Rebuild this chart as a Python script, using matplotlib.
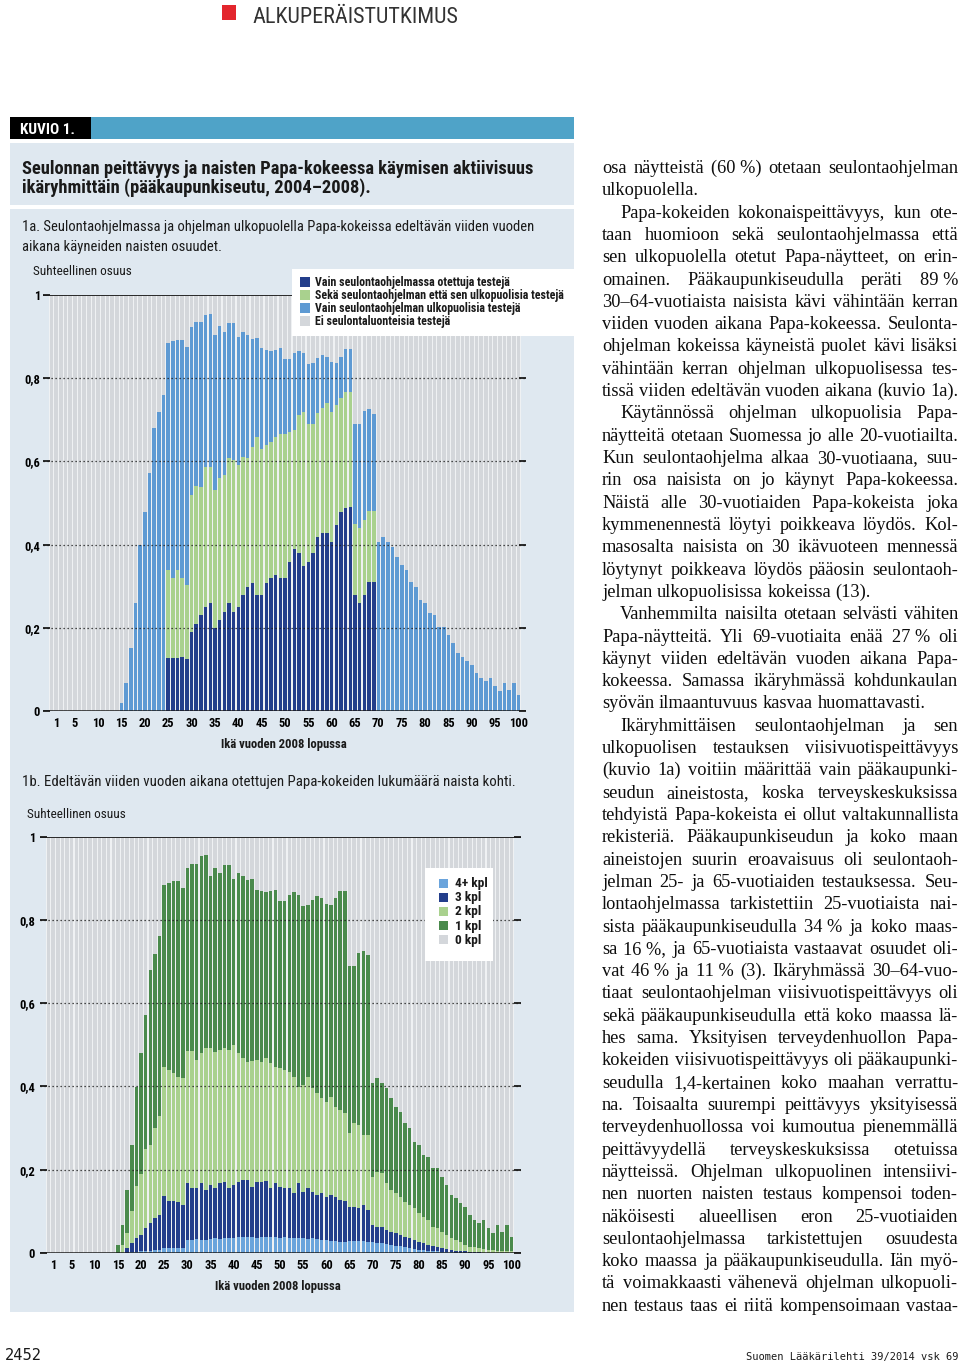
import numpy as np
import matplotlib
matplotlib.use("Agg")
import matplotlib.pyplot as plt
from matplotlib.patches import Rectangle
from matplotlib.font_manager import FontProperties, fontManager

# ------------------------------------------------------------------ data
ages = list(range(0, 101))
age_ticks = [1, 5, 10, 15, 20, 25, 30, 35, 40, 45, 50, 55, 60, 65, 70, 75, 80, 85, 90, 95, 100]
age_tick_labels = [str(t) for t in age_ticks]
share_ticks = [0, 0.2, 0.4, 0.6, 0.8, 1.0]
share_tick_labels = ["0", "0,2", "0,4", "0,6", "0,8", "1"]

# Kuvio 1a: cumulative shares (top of each stacked layer) by age
screen_only = [0.0] * 25 + [
    0.128, 0.128, 0.128, 0.131, 0.124,
    0.190, 0.210, 0.231, 0.251, 0.259, 0.199, 0.219, 0.239, 0.259, 0.239,
    0.251, 0.279, 0.299, 0.308, 0.279, 0.279, 0.307, 0.319, 0.327, 0.319,
    0.319, 0.359, 0.389, 0.379, 0.349, 0.359, 0.379, 0.419, 0.427, 0.427,
    0.407, 0.447, 0.479, 0.487, 0.490,
    0.280, 0.260, 0.280, 0.310, 0.310] + [0.0] * 31
screened_any = [0.0] * 25 + [
    0.339, 0.319, 0.339, 0.319, 0.303,
    0.520, 0.540, 0.539, 0.587, 0.587, 0.531, 0.559, 0.567, 0.607, 0.603,
    0.591, 0.611, 0.607, 0.635, 0.659, 0.631, 0.639, 0.647, 0.659, 0.667,
    0.667, 0.671, 0.675, 0.712, 0.719, 0.691, 0.691, 0.716, 0.728, 0.740,
    0.719, 0.736, 0.752, 0.768, 0.768,
    0.450, 0.440, 0.460, 0.480, 0.480] + [0.0] * 31
tested_any = [0.0] * 15 + [
    0.019, 0.068, 0.151, 0.259, 0.399, 0.479, 0.571, 0.680, 0.719, 0.760,
    0.884, 0.889, 0.892, 0.892, 0.876,
    0.924, 0.935, 0.935, 0.953, 0.955, 0.905, 0.925, 0.912, 0.932, 0.932,
    0.898, 0.912, 0.905, 0.895, 0.897, 0.872, 0.868, 0.866, 0.868, 0.872,
    0.846, 0.846, 0.860, 0.866, 0.860, 0.834, 0.836, 0.848, 0.856, 0.852,
    0.838, 0.836, 0.852, 0.870, 0.870,
    0.690, 0.690, 0.720, 0.725, 0.715,
    0.407, 0.419, 0.407, 0.395, 0.371, 0.351, 0.339, 0.311, 0.299, 0.267,
    0.259, 0.235, 0.231, 0.203, 0.203, 0.183, 0.163, 0.139, 0.131, 0.119,
    0.111, 0.091, 0.079, 0.071, 0.079, 0.059, 0.047, 0.068, 0.051, 0.068, 0.039]

# Kuvio 1b: cumulative shares with at least 4, 3, 2 tests (1+ = tested_any)
tests_2plus = [0.0] * 16 + [
    0.019, 0.047, 0.100, 0.160, 0.190, 0.250, 0.260, 0.300, 0.330,
    0.447, 0.439, 0.431, 0.423, 0.419,
    0.486, 0.486, 0.463, 0.479, 0.491, 0.491, 0.483, 0.487, 0.491, 0.487,
    0.499, 0.479, 0.467, 0.459, 0.460, 0.463, 0.459, 0.467, 0.455, 0.447,
    0.443, 0.439, 0.435, 0.423, 0.399, 0.403, 0.423, 0.395, 0.383, 0.371,
    0.363, 0.375, 0.351, 0.343, 0.335,
    0.287, 0.311, 0.307, 0.283, 0.283,
    0.183, 0.195, 0.191, 0.167, 0.151, 0.143, 0.135, 0.123, 0.115, 0.107,
    0.095, 0.087, 0.079, 0.063, 0.059, 0.051, 0.043, 0.035, 0.031, 0.027,
    0.019, 0.015, 0.014, 0.012, 0.010, 0.008, 0.008, 0.006, 0.006, 0.005, 0.004]
tests_3plus = [0.0] * 17 + [
    0.011, 0.023, 0.035, 0.043, 0.059, 0.071, 0.083, 0.091,
    0.137, 0.126, 0.126, 0.123, 0.115,
    0.169, 0.155, 0.155, 0.167, 0.151, 0.163, 0.155, 0.167, 0.171, 0.155,
    0.163, 0.171, 0.175, 0.175, 0.159, 0.171, 0.171, 0.174, 0.155, 0.167,
    0.159, 0.155, 0.155, 0.143, 0.167, 0.147, 0.155, 0.147, 0.139, 0.143,
    0.135, 0.139, 0.135, 0.127, 0.125,
    0.111, 0.111, 0.107, 0.115, 0.103,
    0.067, 0.063, 0.063, 0.055, 0.051, 0.047, 0.043, 0.039, 0.035, 0.031,
    0.027, 0.023, 0.019, 0.017, 0.015, 0.012, 0.010, 0.008, 0.006, 0.005,
    0.004, 0.003, 0.002, 0.002, 0.001, 0.001, 0.0, 0.0, 0.0, 0.0, 0.0]
tests_4plus = [0.0] * 18 + [
    0.002, 0.003, 0.004, 0.005, 0.006, 0.007, 0.008,
    0.011, 0.011, 0.011, 0.011, 0.011,
    0.031, 0.031, 0.033, 0.031, 0.031, 0.033, 0.035, 0.033, 0.035, 0.035,
    0.037, 0.039, 0.039, 0.039, 0.039, 0.037, 0.039, 0.039, 0.039, 0.039,
    0.037, 0.039, 0.037, 0.035, 0.035, 0.035, 0.033, 0.035, 0.033, 0.031,
    0.031, 0.029, 0.029, 0.027, 0.027,
    0.030, 0.029, 0.030, 0.028, 0.027,
    0.027, 0.025, 0.024, 0.022, 0.020, 0.018, 0.016, 0.014, 0.012, 0.010,
    0.008, 0.007, 0.006, 0.005, 0.004, 0.003, 0.002, 0.002, 0.001, 0.001,
    0.0, 0.0, 0.0, 0.0, 0.0, 0.0, 0.0, 0.0, 0.0, 0.0, 0.0]

legend_1a = ["Vain seulontaohjelmassa otettuja testejä",
             "Sekä seulontaohjelman että sen ulkopuolisia testejä",
             "Vain seulontaohjelman ulkopuolisia testejä",
             "Ei seulontaluonteisia testejä"]
legend_1b = ["4+ kpl", "3 kpl", "2 kpl", "1 kpl", "0 kpl"]

body_lines = [
    (0, 1, "osa näytteistä (60\u00a0%) otetaan seulontaohjelman"),
    (0, 0, "ulkopuolella."),
    (1, 1, "Papa-kokeiden kokonaispeittävyys, kun ote-"),
    (0, 1, "taan huomioon sekä seulontaohjelmassa että"),
    (0, 1, "sen ulkopuolella otetut Papa-näytteet, on erin-"),
    (0, 1, "omainen. Pääkaupunkiseudulla peräti 89\u00a0%"),
    (0, 1, "30–64-vuotiaista naisista kävi vähintään kerran"),
    (0, 1, "viiden vuoden aikana Papa-kokeessa. Seulonta-"),
    (0, 1, "ohjelman kokeissa käyneistä puolet kävi lisäksi"),
    (0, 1, "vähintään kerran ohjelman ulkopuolisessa tes-"),
    (0, 1, "tissä viiden edeltävän vuoden aikana (kuvio 1a)."),
    (1, 1, "Käytännössä ohjelman ulkopuolisia Papa-"),
    (0, 1, "näytteitä otetaan Suomessa jo alle 20-vuotiailta."),
    (0, 1, "Kun seulontaohjelma alkaa 30-vuotiaana, suu-"),
    (0, 1, "rin osa naisista on jo käynyt Papa-kokeessa."),
    (0, 1, "Näistä alle 30-vuotiaiden Papa-kokeista joka"),
    (0, 1, "kymmenennestä löytyi poikkeava löydös. Kol-"),
    (0, 1, "masosalta naisista on 30 ikävuoteen mennessä"),
    (0, 1, "löytynyt poikkeava löydös pääosin seulontaoh-"),
    (0, 0, "jelman ulkopuolisissa kokeissa (13)."),
    (1, 1, "Vanhemmilta naisilta otetaan selvästi vähiten"),
    (0, 1, "Papa-näytteitä. Yli 69-vuotiaita enää 27\u00a0% oli"),
    (0, 1, "käynyt viiden edeltävän vuoden aikana Papa-"),
    (0, 1, "kokeessa. Samassa ikäryhmässä kohdunkaulan"),
    (0, 0, "syövän ilmaantuvuus kasvaa huomattavasti."),
    (1, 1, "Ikäryhmittäisen seulontaohjelman ja sen"),
    (0, 1, "ulkopuolisen testauksen viisivuotispeittävyys"),
    (0, 1, "(kuvio 1a) voitiin määrittää vain pääkaupunki-"),
    (0, 1, "seudun aineistosta, koska terveyskeskuksissa"),
    (0, 1, "tehdyistä Papa-kokeista ei ollut valtakunnallista"),
    (0, 1, "rekisteriä. Pääkaupunkiseudun ja koko maan"),
    (0, 1, "aineistojen suurin eroavaisuus oli seulontaoh-"),
    (0, 1, "jelman 25- ja 65-vuotiaiden testauksessa. Seu-"),
    (0, 1, "lontaohjelmassa tarkistettiin 25-vuotiaista nai-"),
    (0, 1, "sista pääkaupunkiseudulla 34\u00a0% ja koko maas-"),
    (0, 1, "sa 16\u00a0%, ja 65-vuotiaista vastaavat osuudet oli-"),
    (0, 1, "vat 46\u00a0% ja 11\u00a0% (3). Ikäryhmässä 30–64-vuo-"),
    (0, 1, "tiaat seulontaohjelman viisivuotispeittävyys oli"),
    (0, 1, "sekä pääkaupunkiseudulla että koko maassa lä-"),
    (0, 1, "hes sama. Yksityisen terveydenhuollon Papa-"),
    (0, 1, "kokeiden viisivuotispeittävyys oli pääkaupunki-"),
    (0, 1, "seudulla 1,4-kertainen koko maahan verrattu-"),
    (0, 1, "na. Toisaalta suurempi peittävyys yksityisessä"),
    (0, 1, "terveydenhuollossa voi kumoutua pienemmällä"),
    (0, 1, "peittävyydellä terveyskeskuksissa otetuissa"),
    (0, 1, "näytteissä. Ohjelman ulkopuolinen intensiivi-"),
    (0, 1, "nen nuorten naisten testaus kompensoi toden-"),
    (0, 1, "näköisesti alueellisen eron 25-vuotiaiden"),
    (0, 1, "seulontaohjelmassa tarkistettujen osuudesta"),
    (0, 1, "koko maassa ja pääkaupunkiseudulla. Iän myö-"),
    (0, 1, "tä voimakkaasti vähenevä ohjelman ulkopuoli-"),
    (0, 1, "nen testaus taas ei riitä kompensoimaan vastaa-"),
]

# ------------------------------------------------------------------ style
NAVY = "#233e8b"
LGREEN = "#a9d18e"
MBLUE = "#5e9ad3"
GREY = "#d4d7db"
DGREEN = "#4a8a4c"
LBLUE4 = "#6aa4dc"
PANEL = "#dfe8f0"
GAP = "#eff1f3"
KBLUE = "#4fa3c8"
RED = "#e3262d"
INK = "#1a1a1a"

W, H = 960, 1362
fig = plt.figure(figsize=(W / 100, H / 100), dpi=100)
fig.patch.set_facecolor("white")
renderer = fig.canvas.get_renderer()

installed = {f.name for f in fontManager.ttflist}


def pick(*cands):
    for c in cands:
        if c in installed:
            return c
    return "DejaVu Sans"


NARROW = pick("Liberation Sans Narrow", "Roboto Condensed", "Open Sans Condensed", "Liberation Sans")
SERIF = pick("Liberation Serif", "DejaVu Serif")
MONO = pick("DejaVu Sans Mono", "Liberation Mono")


def fprop(family, size, weight="normal"):
    return FontProperties(family=family, size=size, weight=weight)


def text_w(s, prop):
    w, h, d = renderer.get_text_width_height_descent(s, prop, ismath=False)
    return w


def fit(s, family, weight, target_w, base=10.0):
    return fprop(family, base * target_w / text_w(s, fprop(family, base, weight)), weight)


def px_text(x, y, s, prop, **kw):
    kw.setdefault("va", "baseline")
    kw.setdefault("color", INK)
    return fig.text(x / W, 1 - y / H, s, fontproperties=prop, **kw)


def px_rect(x0, y0, x1, y1, color, z=-5):
    fig.add_artist(Rectangle((x0 / W, 1 - y1 / H), (x1 - x0) / W, (y1 - y0) / H,
                             transform=fig.transFigure, facecolor=color,
                             edgecolor="none", zorder=z))


def px_axes(x0, y0, x1, y1):
    ax = fig.add_axes([x0 / W, 1 - y1 / H, (x1 - x0) / W, (y1 - y0) / H])
    ax.set_facecolor("none")
    for s in ax.spines.values():
        s.set_visible(False)
    return ax


# ------------------------------------------------------------------ page header
px_rect(222, 5, 236, 20, RED)
px_text(252, 23, "ALKUPERÄISTUTKIMUS", fit("ALKUPERÄISTUTKIMUS", NARROW, "normal", 206), color="#333333")

px_rect(10, 117, 91, 139, "black")
px_rect(91, 117, 574, 139, KBLUE)
px_text(20, 134, "KUVIO 1.", fit("KUVIO 1.", NARROW, "bold", 55), color="white")

px_rect(10, 143, 574, 205, PANEL)
px_rect(10, 209, 574, 1312, PANEL)

t1 = "Seulonnan peittävyys ja naisten Papa-kokeessa käymisen aktiivisuus"
tprop = fit(t1, NARROW, "bold", 512)
px_text(22, 174, t1, tprop)
px_text(22, 193, "ikäryhmittäin (pääkaupunkiseutu, 2004–2008).", tprop)

s1 = "1a. Seulontaohjelmassa ja ohjelman ulkopuolella Papa-kokeissa edeltävän viiden vuoden"
sprop = fit(s1, NARROW, "normal", 511)
px_text(22, 231, s1, sprop)
px_text(22, 251, "aikana käyneiden naisten osuudet.", sprop)

small = fit("Suhteellinen osuus", NARROW, "normal", 98)
tickprop = fprop(NARROW, 9.0, "bold")
xlab = fit("Ikä vuoden 2008 lopussa", NARROW, "bold", 126)

a = np.array(ages, dtype=float)
BW = 0.76

# ------------------------------------------------------------------ chart 1a
N = np.array(screen_only)
S = np.array(screened_any)
T = np.array(tested_any)

X0, P = 51.5, 4.67
ax1 = px_axes(43, 295, 526, 711)
ax1.set_xlim((43 - X0) / P, (526 - X0) / P)
ax1.set_ylim(0, 1)
ax1.axvspan(a[0] - 0.5, a[-1] + 0.5, color=GAP, zorder=0.5, lw=0)
ax1.bar(a, 1 - T, bottom=T, width=BW, color=GREY, zorder=1, lw=0)
ax1.bar(a, T - S, bottom=S, width=BW, color=MBLUE, zorder=1, lw=0)
ax1.bar(a, S - N, bottom=N, width=BW, color=LGREEN, zorder=1, lw=0)
ax1.bar(a, N, width=BW, color=NAVY, zorder=1, lw=0)
ax1.hlines(share_ticks[1:-1], *ax1.get_xlim(), colors=INK, linestyles=(0, (1, 2.2)), lw=0.9, zorder=3)
ax1.axhline(1.0, color=INK, lw=1.3, zorder=3)
ax1.axhline(0.0, color=INK, lw=1.8, zorder=4)
ax1.set_yticks(share_ticks, share_tick_labels, fontproperties=tickprop)
ax1.set_xticks(age_ticks, age_tick_labels, fontproperties=tickprop)
ax1.tick_params(axis="y", direction="in", length=5, width=1.3, color=INK,
                left=True, right=True, pad=2.2)
ax1.tick_params(axis="x", length=0, pad=4)

px_text(33, 275, "Suhteellinen osuus", small)
px_text(284, 748, "Ikä vuoden 2008 lopussa", xlab, ha="center")

# legend 1a
px_rect(292, 269, 575, 336, "white", z=10)
legprop = fit(legend_1a[1], NARROW, "bold", 247)
for i, (lab, col) in enumerate(zip(legend_1a, [NAVY, LGREEN, MBLUE, GREY])):
    yc = 282 + i * 13
    px_rect(300, yc - 5, 310, yc + 5, col, z=11)
    px_text(315, yc + 4, lab, legprop, zorder=12)

# ------------------------------------------------------------------ chart 1b
px_text(22, 786, "1b. Edeltävän viiden vuoden aikana otettujen Papa-kokeiden lukumäärä naista kohti.",
        fit("1b. Edeltävän viiden vuoden aikana otettujen Papa-kokeiden lukumäärä naista kohti.",
            NARROW, "normal", 489))
px_text(27, 818, "Suhteellinen osuus", small)

L4 = np.array(tests_4plus)
L3 = np.array(tests_3plus)
L2 = np.array(tests_2plus)
L1 = np.array(tested_any)

X0b, Pb = 48.5, 4.63
ax2 = px_axes(40, 836.5, 521, 1253)
ax2.set_xlim((40 - X0b) / Pb, (521 - X0b) / Pb)
ax2.set_ylim(0, 1)
ax2.axvspan(a[0] - 0.5, a[-1] + 0.5, color=GAP, zorder=0.5, lw=0)
ax2.bar(a, 1 - L1, bottom=L1, width=BW, color=GREY, zorder=1, lw=0)
ax2.bar(a, L1 - L2, bottom=L2, width=BW, color=DGREEN, zorder=1, lw=0)
ax2.bar(a, L2 - L3, bottom=L3, width=BW, color=LGREEN, zorder=1, lw=0)
ax2.bar(a, L3 - L4, bottom=L4, width=BW, color=NAVY, zorder=1, lw=0)
ax2.bar(a, L4, width=BW, color=LBLUE4, zorder=1, lw=0)
ax2.hlines(share_ticks[1:-1], *ax2.get_xlim(), colors=INK, linestyles=(0, (1, 2.2)), lw=0.9, zorder=3)
ax2.axhline(1.0, color=INK, lw=1.3, zorder=3)
ax2.axhline(0.0, color=INK, lw=1.8, zorder=4)
ax2.set_yticks(share_ticks, share_tick_labels, fontproperties=tickprop)
ax2.set_xticks(age_ticks, age_tick_labels, fontproperties=tickprop)
ax2.tick_params(axis="y", direction="in", length=5, width=1.3, color=INK,
                left=True, right=True, pad=3.6)
ax2.tick_params(axis="x", length=0, pad=4)
px_text(278, 1290, "Ikä vuoden 2008 lopussa", xlab, ha="center")

px_rect(425, 868, 493, 961, "white", z=10)
leg2prop = fit(legend_1b[0], NARROW, "bold", 33)
for i, (lab, col) in enumerate(zip(legend_1b, [LBLUE4, NAVY, LGREEN, DGREEN, GREY])):
    yc = 883 + i * 14.2
    px_rect(439, yc - 4.5, 448, yc + 4.5, col, z=11)
    px_text(455, yc + 4, lab, leg2prop, zorder=12)

# ------------------------------------------------------------------ body text (justified)
LEFT, RIGHT, INDENT = 602, 958, 18
BODY_SIZE = 13.2
for i, (ind, just, line) in enumerate(body_lines):
    y = 173 + i * 22.31
    x = LEFT + ind * INDENT
    avail = RIGHT - x
    words = line.split(" ")
    size = BODY_SIZE
    while True:
        bp = fprop(SERIF, size)
        space = text_w("a a", bp) - text_w("aa", bp)
        widths = [text_w(wd, bp) for wd in words]
        if not just or len(words) < 2:
            gap = space
            break
        gap = (avail - sum(widths)) / (len(words) - 1)
        if gap >= 0.6 * space or size < 9:
            break
        size -= 0.1
    for wd, wdw in zip(words, widths):
        px_text(x, y, wd, bp, color="#0d0d0d")
        x += wdw + gap

# ------------------------------------------------------------------ footer
px_text(5, 1360, "2452", fit("2452", MONO, "normal", 37))
px_text(958, 1360, "Suomen Lääkärilehti 39/2014 vsk 69",
        fit("Suomen Lääkärilehti 39/2014 vsk 69", MONO, "normal", 213), ha="right")

fig.savefig("out.png", dpi=100)
